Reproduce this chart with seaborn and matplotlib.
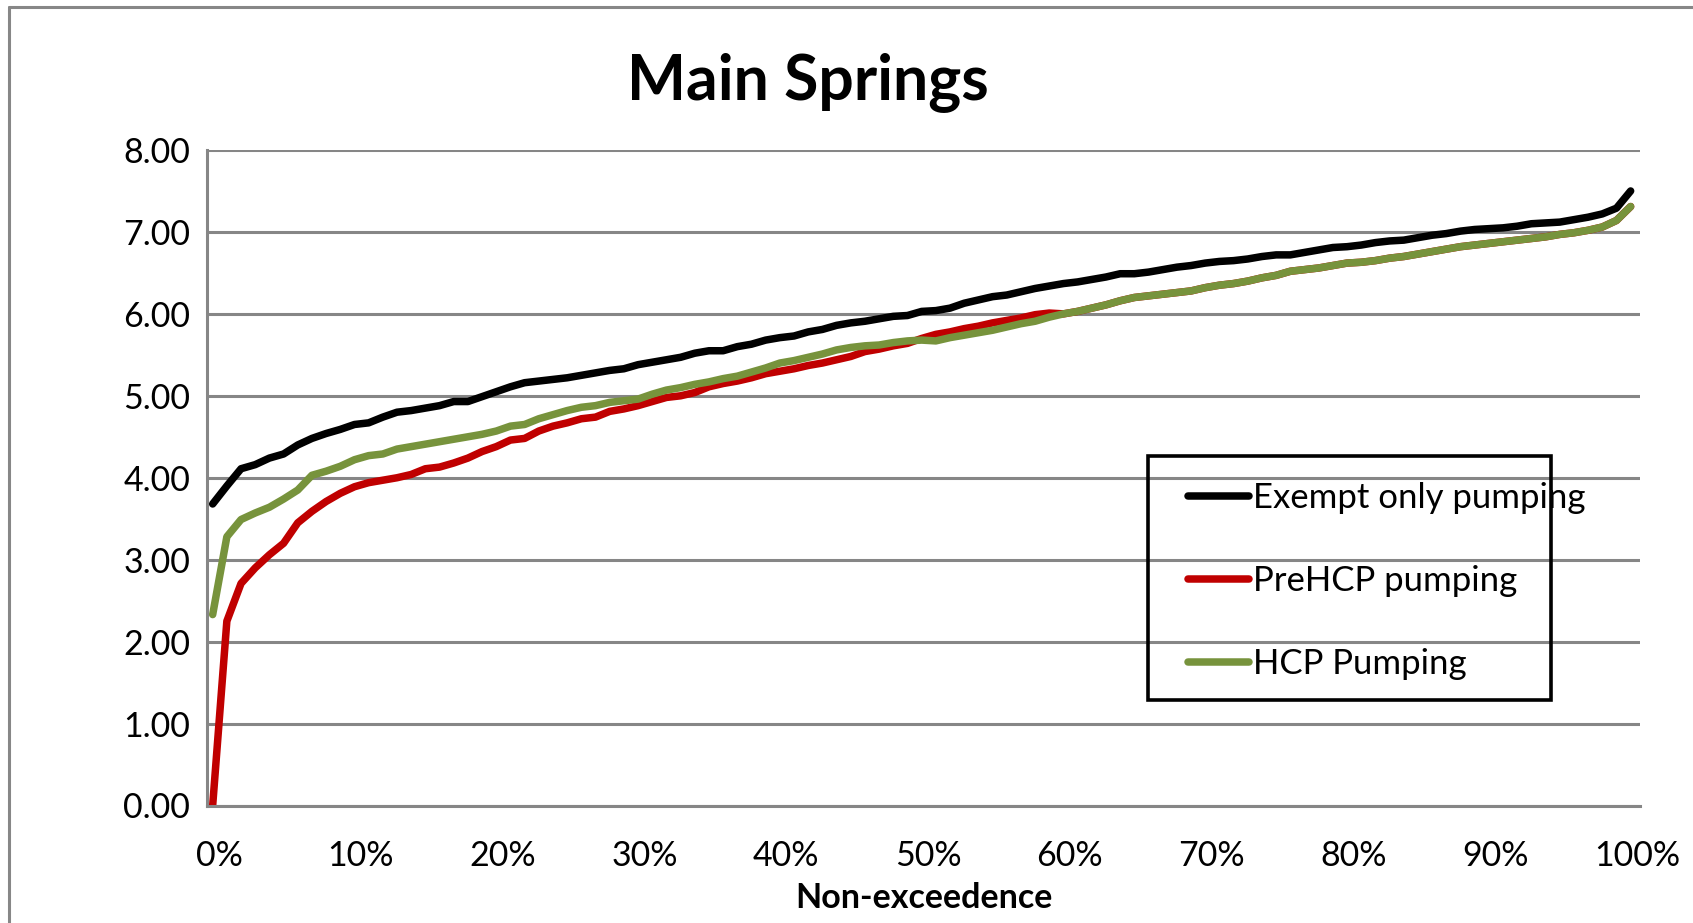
import numpy as np
import pandas as pd
import matplotlib
matplotlib.use("Agg")
import matplotlib.pyplot as plt
import matplotlib.transforms as mtransforms
from matplotlib.lines import Line2D
from matplotlib.patches import Rectangle
import seaborn as sns

# Non-exceedence probability of each ranked value (fraction)
non_exceedence = (np.arange(101) + 0.4) / 100.0

exempt_only = [
    3.68, 3.90, 4.11, 4.16, 4.24, 4.29, 4.40, 4.48, 4.54, 4.59,
    4.65, 4.67, 4.74, 4.80, 4.82, 4.85, 4.88, 4.93, 4.93, 4.99,
    5.05, 5.11, 5.16, 5.18, 5.20, 5.22, 5.25, 5.28, 5.31, 5.33,
    5.38, 5.41, 5.44, 5.47, 5.52, 5.55, 5.55, 5.60, 5.63, 5.68,
    5.71, 5.73, 5.78, 5.81, 5.86, 5.89, 5.91, 5.94, 5.97, 5.98,
    6.03, 6.04, 6.07, 6.13, 6.17, 6.21, 6.23, 6.27, 6.31, 6.34,
    6.37, 6.39, 6.42, 6.45, 6.49, 6.49, 6.51, 6.54, 6.57, 6.59,
    6.62, 6.64, 6.65, 6.67, 6.70, 6.72, 6.72, 6.75, 6.78, 6.81,
    6.82, 6.84, 6.87, 6.89, 6.90, 6.93, 6.96, 6.98, 7.01, 7.03,
    7.04, 7.05, 7.07, 7.10, 7.11, 7.12, 7.15, 7.18, 7.22, 7.29,
    7.50,
]

pre_hcp = [
    0.00, 2.25, 2.71, 2.90, 3.06, 3.20, 3.45, 3.59, 3.71, 3.81,
    3.89, 3.94, 3.97, 4.00, 4.04, 4.11, 4.13, 4.18, 4.24, 4.32,
    4.38, 4.46, 4.48, 4.57, 4.63, 4.67, 4.72, 4.74, 4.81, 4.84,
    4.88, 4.93, 4.98, 5.00, 5.04, 5.11, 5.15, 5.18, 5.22, 5.27,
    5.30, 5.33, 5.37, 5.40, 5.44, 5.48, 5.54, 5.57, 5.61, 5.64,
    5.70, 5.75, 5.78, 5.82, 5.85, 5.89, 5.92, 5.95, 5.99, 6.01,
    6.00, 6.03, 6.07, 6.11, 6.16, 6.20, 6.22, 6.24, 6.26, 6.28,
    6.32, 6.35, 6.37, 6.40, 6.44, 6.47, 6.52, 6.54, 6.56, 6.59,
    6.62, 6.63, 6.65, 6.68, 6.70, 6.73, 6.76, 6.79, 6.82, 6.84,
    6.86, 6.88, 6.90, 6.92, 6.94, 6.97, 6.99, 7.02, 7.06, 7.14,
    7.31,
]

hcp = [
    2.33, 3.28, 3.49, 3.57, 3.64, 3.74, 3.85, 4.03, 4.08, 4.14,
    4.22, 4.27, 4.29, 4.35, 4.38, 4.41, 4.44, 4.47, 4.50, 4.53,
    4.57, 4.63, 4.65, 4.72, 4.77, 4.82, 4.86, 4.88, 4.92, 4.94,
    4.96, 5.02, 5.07, 5.10, 5.14, 5.17, 5.21, 5.24, 5.29, 5.34,
    5.40, 5.43, 5.47, 5.51, 5.56, 5.59, 5.61, 5.62, 5.65, 5.67,
    5.68, 5.67, 5.71, 5.74, 5.77, 5.80, 5.84, 5.88, 5.91, 5.96,
    6.00, 6.03, 6.07, 6.11, 6.16, 6.20, 6.22, 6.24, 6.26, 6.28,
    6.32, 6.35, 6.37, 6.40, 6.44, 6.47, 6.52, 6.54, 6.56, 6.59,
    6.62, 6.63, 6.65, 6.68, 6.70, 6.73, 6.76, 6.79, 6.82, 6.84,
    6.86, 6.88, 6.90, 6.92, 6.94, 6.97, 6.99, 7.02, 7.06, 7.14,
    7.31,
]

series_names = ["Exempt only pumping", "PreHCP pumping", "HCP Pumping"]
series_colors = ["#000000", "#C00000", "#77933C"]
y_ticks = [0, 1, 2, 3, 4, 5, 6, 7, 8]
x_ticks = [0.0, 0.1, 0.2, 0.3, 0.4, 0.5, 0.6, 0.7, 0.8, 0.9, 1.0]

df = pd.concat(
    [
        pd.DataFrame({"p": non_exceedence, "value": vals, "series": name})
        for name, vals in zip(series_names, [exempt_only, pre_hcp, hcp])
    ],
    ignore_index=True,
)

sns.set_style("white")
plt.rcParams["font.family"] = ["Lato", "DejaVu Sans"]
plt.rcParams["text.color"] = "black"
plt.rcParams["axes.labelcolor"] = "black"

W, H = 1693, 923
fig = plt.figure(figsize=(W / 100, H / 100), dpi=100)
fig.patch.set_facecolor("white")

# axes placed in pixel terms
left_px, right_px, top_px, bottom_px = 207, 1640, 150, 805.5
ax = fig.add_axes([left_px / W, 1 - bottom_px / H,
                   (right_px - left_px) / W, (bottom_px - top_px) / H])

grid_color = "#868686"
line_w = 5.4
ax.set_axisbelow(True)
ax.yaxis.grid(True, color=grid_color, linewidth=2.2)
ax.xaxis.grid(False)

sns.lineplot(
    data=df, x="p", y="value", hue="series", hue_order=series_names,
    palette=series_colors, linewidth=line_w, sort=False, estimator=None,
    legend=False, ax=ax, solid_capstyle="round", solid_joinstyle="round",
)

ax.set_xlim(0, 1.0106)
ax.set_ylim(0, 8)
ax.set_yticks(y_ticks)
ax.set_yticklabels([f"{v:.2f}" for v in y_ticks])
ax.set_xticks(x_ticks)
ax.set_xticklabels([f"{int(round(v * 100))}%" for v in x_ticks])
ax.set_xlabel("")
ax.set_ylabel("")

for s in ["top", "right"]:
    ax.spines[s].set_visible(False)
for s in ["left", "bottom"]:
    ax.spines[s].set_color(grid_color)
    ax.spines[s].set_linewidth(2.2)

tick_size = 24.5
ax.tick_params(axis="y", length=0, pad=12, labelsize=tick_size, labelcolor="black")
ax.tick_params(axis="x", length=6.5, width=2.2, color=grid_color, pad=18,
               labelsize=tick_size, labelcolor="black", direction="out")
shift = mtransforms.ScaledTranslation(12 / 100, 0, fig.dpi_scale_trans)
for lbl in ax.get_xticklabels():
    lbl.set_transform(lbl.get_transform() + shift)

# Title and axis title
fig.text(808 / W, 1 - 82 / H, "Main Springs", ha="center", va="center",
         fontsize=45, fontweight="bold", color="black")
fig.text(924 / W, 1 - 898 / H, "Non-exceedence", ha="center", va="center",
         fontsize=24.5, fontweight="bold", color="black")

# Legend (text is allowed to run past its box)
handles = [Line2D([0], [0], color=c, linewidth=line_w, solid_capstyle="round")
           for c in series_colors]
fig.legend(handles, series_names, loc="upper left",
           bbox_to_anchor=(1188 / W, 1 - 482 / H), bbox_transform=fig.transFigure,
           frameon=False, borderpad=0, borderaxespad=0, fontsize=25,
           labelcolor="black", handlelength=1.75, handletextpad=0.12,
           labelspacing=1.47)
fig.patches.append(Rectangle((1148 / W, 1 - 700 / H), (1551 - 1148) / W,
                             (700 - 456) / H, transform=fig.transFigure,
                             fill=False, edgecolor="black", linewidth=2.6,
                             zorder=5))

# Chart-area border along the top and left edges
fig.add_artist(Line2D([8.7 / W, 8.7 / W], [1 - 7.3 / H, 0], transform=fig.transFigure,
                      color="#878787", linewidth=2.2))
fig.add_artist(Line2D([8.7 / W, 1], [1 - 7.3 / H, 1 - 7.3 / H], transform=fig.transFigure,
                      color="#878787", linewidth=2.2))

fig.savefig("out.png", dpi=100, facecolor="white")
